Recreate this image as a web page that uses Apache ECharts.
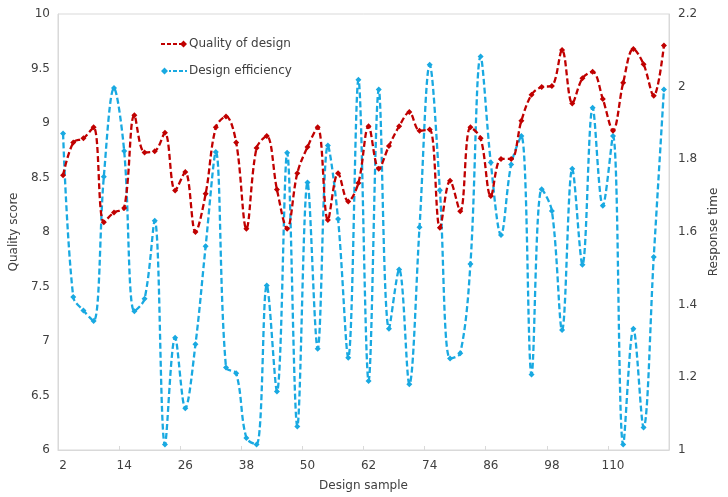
<!DOCTYPE html>
<html>
<head>
<meta charset="utf-8">
<script src="https://cdn.jsdelivr.net/npm/echarts@6/dist/echarts.min.js"></script>
<style>
  html, body { margin: 0; padding: 0; background: #ffffff; }
  #chart { width: 728px; height: 497px; }
</style>
</head>
<body>
<div id="chart"></div>
<script>
// Design samples (x axis categories)
const samples = [2, 4, 6, 8, 10, 12, 14, 16, 18, 20, 22, 24, 26, 28, 30, 32, 34, 36, 38, 40,
  42, 44, 46, 48, 50, 52, 54, 56, 58, 60, 62, 64, 66, 68, 70, 72, 74, 76, 78, 80,
  82, 84, 86, 88, 90, 92, 94, 96, 98, 100, 102, 104, 106, 108, 110, 112, 114, 116, 118, 120];

// Quality score per sample (left axis)
const qualityOfDesign = [
  8.52, 8.82, 8.86, 8.96, 8.09, 8.18, 8.22, 9.07, 8.73, 8.74,
  8.91, 8.38, 8.55, 8.00, 8.35, 8.96, 9.06, 8.82, 8.03, 8.77,
  8.88, 8.39, 8.03, 8.54, 8.78, 8.96, 8.11, 8.54, 8.28, 8.45,
  8.97, 8.58, 8.79, 8.97, 9.10, 8.93, 8.94, 8.04, 8.47, 8.19,
  8.96, 8.86, 8.33, 8.67, 8.67, 9.02, 9.26, 9.33, 9.34, 9.67,
  9.18, 9.41, 9.47, 9.22, 8.93, 9.37, 9.68, 9.54, 9.25, 9.71
];

// Response time per sample (right axis)
const designEfficiency = [
  1.871, 1.421, 1.384, 1.355, 1.752, 1.996, 1.823, 1.382, 1.416, 1.631,
  1.015, 1.309, 1.115, 1.291, 1.561, 1.820, 1.227, 1.211, 1.033, 1.015,
  1.453, 1.161, 1.818, 1.065, 1.736, 1.279, 1.838, 1.636, 1.254, 2.019,
  1.190, 1.992, 1.334, 1.497, 1.181, 1.613, 2.060, 1.715, 1.252, 1.266,
  1.512, 2.083, 1.791, 1.592, 1.786, 1.864, 1.208, 1.718, 1.658, 1.330,
  1.774, 1.510, 1.942, 1.672, 1.864, 1.015, 1.334, 1.062, 1.531, 1.992
];

const RED = '#c00000';
const BLUE = '#19a9e1';
const TEXT = '#404040';
const FONT = 'DejaVu Sans';

// Legend glyphs: dashed stroke with the marker at one end
const redIcon = 'path://M0,3.1H4V4.9H0Z M6,3.1H10V4.9H6Z M12,3.1H16V4.9H12Z M18,3.1H20V4.9H18Z M22.5,0.5L26,4L22.5,7.5L19,4Z';
const blueIcon = 'path://M3.5,0.5L7,4L3.5,7.5L0,4Z M8,3.1H10V4.9H8Z M12,3.1H16V4.9H12Z M18,3.1H22V4.9H18Z M24,3.1H26V4.9H24Z';

const chart = echarts.init(document.getElementById('chart'), null, { renderer: 'canvas' });

chart.setOption({
  animation: false,
  backgroundColor: '#ffffff',
  textStyle: { fontFamily: FONT },
  grid: {
    left: 48, right: 45, top: 14, bottom: 45,
    show: true, borderColor: '#d9d9d9', borderWidth: 1
  },
  legend: {
    orient: 'vertical',
    left: 156, top: 32,
    itemWidth: 26, itemHeight: 8, itemGap: 13,
    textStyle: { fontFamily: FONT, fontSize: 12, color: TEXT, lineHeight: 14, padding: [0, 0, 0, -3] },
    data: [
      { name: 'Quality of design', icon: redIcon, itemStyle: { color: RED, borderWidth: 0 } },
      { name: 'Design efficiency', icon: blueIcon, itemStyle: { color: BLUE, borderWidth: 0 } }
    ]
  },
  xAxis: {
    type: 'category',
    data: samples,
    boundaryGap: true,
    name: 'Design sample',
    nameLocation: 'middle',
    nameGap: 30,
    nameTextStyle: { fontFamily: FONT, fontSize: 12, color: TEXT },
    axisLine: { show: true, lineStyle: { color: '#d9d9d9' } },
    axisTick: { show: true, interval: 5, inside: true, length: 4, lineStyle: { color: '#d9d9d9' } },
    axisLabel: { interval: 5, margin: 10, fontFamily: FONT, fontSize: 12, color: TEXT },
    splitLine: { show: false }
  },
  yAxis: [
    {
      type: 'value',
      min: 6, max: 10, interval: 0.5,
      name: 'Quality score',
      nameLocation: 'middle',
      nameRotate: 90,
      nameGap: 24,
      nameTextStyle: { fontFamily: FONT, fontSize: 12, color: TEXT },
      axisLine: { show: true, lineStyle: { color: '#d9d9d9' } },
      axisTick: { show: false },
      axisLabel: { margin: 8, fontFamily: FONT, fontSize: 12, color: TEXT },
      splitLine: { show: false }
    },
    {
      type: 'value',
      min: 1, max: 2.2, interval: 0.2,
      name: 'Response time',
      nameLocation: 'middle',
      nameRotate: 90,
      nameGap: 31,
      nameTextStyle: { fontFamily: FONT, fontSize: 12, color: TEXT },
      axisLine: { show: true, lineStyle: { color: '#d9d9d9' } },
      axisTick: { show: false },
      axisLabel: { margin: 9, fontFamily: FONT, fontSize: 12, color: TEXT },
      splitLine: { show: false }
    }
  ],
  series: [
    {
      name: 'Quality of design',
      type: 'line',
      yAxisIndex: 0,
      data: qualityOfDesign,
      smooth: 0.35,
      symbol: 'diamond',
      symbolSize: 6,
      itemStyle: { color: RED },
      lineStyle: { color: RED, width: 2.3, type: [6, 3] },
      z: 3
    },
    {
      name: 'Design efficiency',
      type: 'line',
      yAxisIndex: 1,
      data: designEfficiency,
      smooth: 0.35,
      symbol: 'diamond',
      symbolSize: 6,
      itemStyle: { color: BLUE },
      lineStyle: { color: BLUE, width: 2.3, type: [6, 3] },
      z: 2
    }
  ]
});
</script>
</body>
</html>
